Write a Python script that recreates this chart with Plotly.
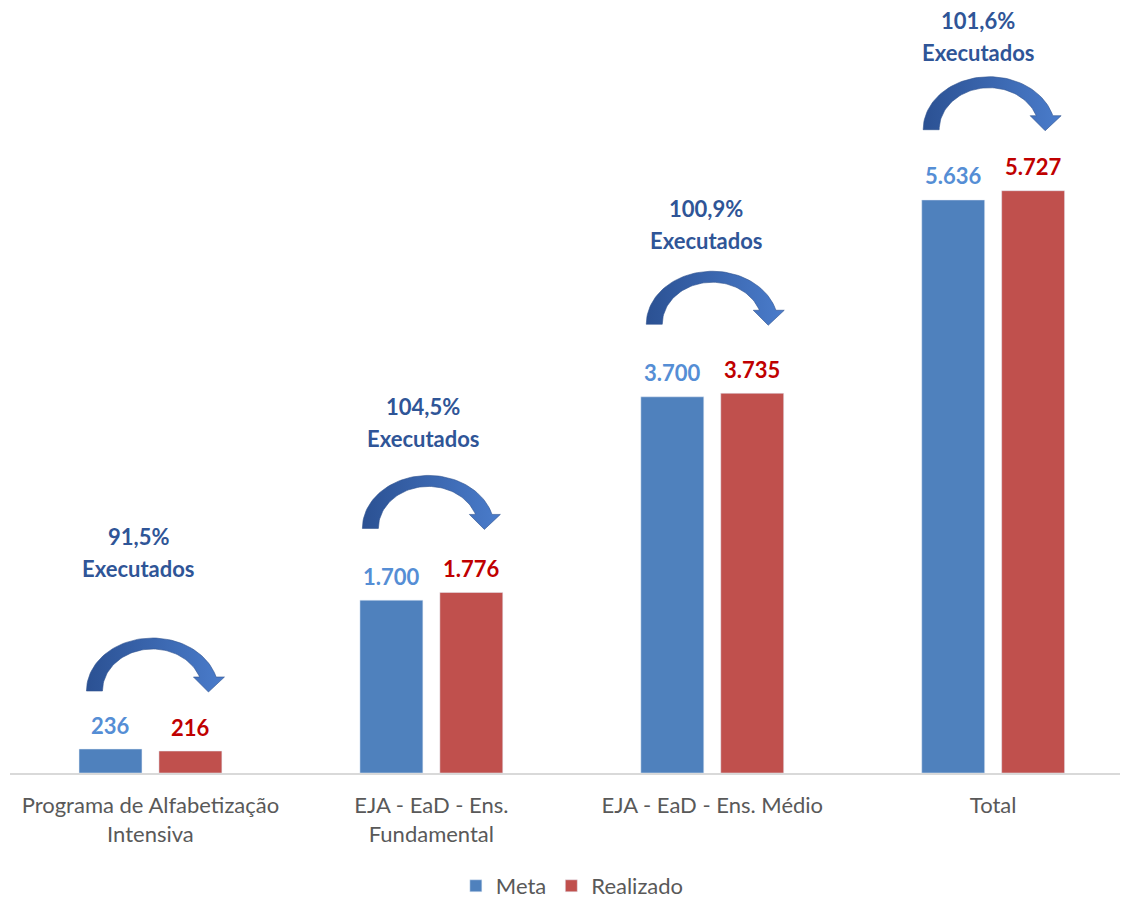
import math
import plotly.graph_objects as go

# ---- data ----
categories = ["Programa de Alfabetização Intensiva", "EJA - EaD - Ens. Fundamental",
              "EJA - EaD - Ens. Médio", "Total"]
tick_labels = ["Programa de Alfabetização<br>Intensiva", "EJA - EaD - Ens.<br>Fundamental",
               "EJA - EaD - Ens. Médio", "Total"]
meta = [236, 1700, 3700, 5636]
realizado = [216, 1776, 3735, 5727]

# ---- layout constants (page body adds an 8px offset) ----
W, H = 1120, 892
ML, MR, MT, MB = 2, 0, 0, 127
XR = [-0.5, 3.48]
YR = [0, 7524]
plot_w = W - ML - MR
plot_h = H - MT - MB
px_x = plot_w / (XR[1] - XR[0])        # pixels per category unit
px_y = plot_h / (YR[1] - YR[0])        # pixels per value unit

BLUE, RED = "#4F81BD", "#C0504D"
NOTE_COLOR = "#2F5597"
FONT = "Lato"
FS = 22

# style offsets (pixels) for decorations
arrow_lift = [58, 64, 69, 61]        # arrow bottom above the taller bar
arrow_dx = [3, -2, 1, -3]            # horizontal nudge of each arrow
note_lift = [123, 90, 84, 77]        # "Executados" line above arrow bottom
note_dx = [-12, -8, -6, -15]         # text offset from category centre
slot = 80 / px_x                      # distance between the two bars (units)

fig = go.Figure()
fig.add_trace(go.Bar(name="Meta", x=list(range(len(categories))), y=meta,
                     marker_color=BLUE, hoverinfo="skip"))
fig.add_trace(go.Bar(name="Realizado", x=list(range(len(categories))), y=realizado,
                     marker_color=RED, hoverinfo="skip"))


def ellipse_pts(cx, a, b, y_end):
    """points (px offsets) along upper ellipse from left (y=0) to the right side at y=y_end"""
    t_end = math.asin(y_end / b)
    pts = []
    n = 60
    for i in range(n + 1):
        t = math.pi - (math.pi - t_end) * i / n
        pts.append((cx + a * math.cos(t), b * math.sin(t)))
    return pts


annotations = []
for i, (m, r) in enumerate(zip(meta, realizado)):
    xm = i - slot / 2
    xr = i + slot / 2
    # value labels
    annotations.append(dict(x=xm, y=m, text=f"{m:,}".replace(",", "."), showarrow=False,
                            yanchor="middle", yshift=24,
                            font=dict(family=FONT, size=FS, color="#558ED5", weight="bold")))
    annotations.append(dict(x=xr, y=r, text=f"{r:,}".replace(",", "."), showarrow=False,
                            yanchor="middle", yshift=24,
                            font=dict(family=FONT, size=FS, color="#C00000", weight="bold")))
    # arrow geometry in px offsets relative to (meta centre, arrow bottom)
    cx = 39 + arrow_dx[i]
    outer = ellipse_pts(cx, 66, 53, 14)
    inner = ellipse_pts(cx, 50, 42, 14)[::-1]
    tip_x = cx + 56
    head = [(cx + 72, 14), (tip_x, -1), (cx + 41, 14)]
    poly = outer + head + inner
    top_px = max(m, r) * px_y + arrow_lift[i]
    xs = [xm + p[0] / px_x for p in poly] + [xm + poly[0][0] / px_x]
    ys = [(top_px + p[1]) / px_y for p in poly] + [(top_px + poly[0][1]) / px_y]
    fig.add_trace(go.Scatter(x=xs, y=ys, mode="lines", fill="toself",
                             line=dict(color="#2F528F", width=0.6),
                             fillgradient=dict(type="horizontal",
                                               colorscale=[[0, "#2B5193"], [1, "#4A7CCB"]]),
                             showlegend=False, hoverinfo="skip"))
    # percentage note
    pct = r / m * 100
    pct_txt = f"{pct:.1f}".replace(".", ",") + "%"
    ex_y = (top_px + note_lift[i]) / px_y
    xt = i + note_dx[i] / px_x
    annotations.append(dict(x=xt, y=ex_y, text="Executados", showarrow=False,
                            yanchor="middle",
                            font=dict(family=FONT, size=FS, color=NOTE_COLOR, weight="bold")))
    annotations.append(dict(x=xt, y=ex_y, text=pct_txt, showarrow=False,
                            yanchor="middle", yshift=32,
                            font=dict(family=FONT, size=FS, color=NOTE_COLOR, weight="bold")))

fig.update_layout(
    width=W, height=H,
    margin=dict(l=ML, r=MR, t=MT, b=MB, autoexpand=False),
    paper_bgcolor="white", plot_bgcolor="white",
    barmode="group", bargap=0.431, bargroupgap=0.2125,
    font=dict(family=FONT, size=FS, color="#595959"),
    annotations=annotations,
    legend=dict(orientation="h", x=0.503, xanchor="center", y=-0.1477, yanchor="middle",
                font=dict(family=FONT, size=FS, color="#595959"), traceorder="normal"),
    xaxis=dict(range=XR, tickvals=list(range(len(categories))), ticktext=tick_labels,
               showline=True, linecolor="#D9D9D9", linewidth=1.5, showgrid=False,
               zeroline=False, ticks="", ticklabelstandoff=12, automargin=False,
               tickfont=dict(family=FONT, size=FS, color="#595959")),
    yaxis=dict(range=YR, visible=False, showgrid=False, zeroline=False, automargin=False),
)

fig.write_html("out.html")
